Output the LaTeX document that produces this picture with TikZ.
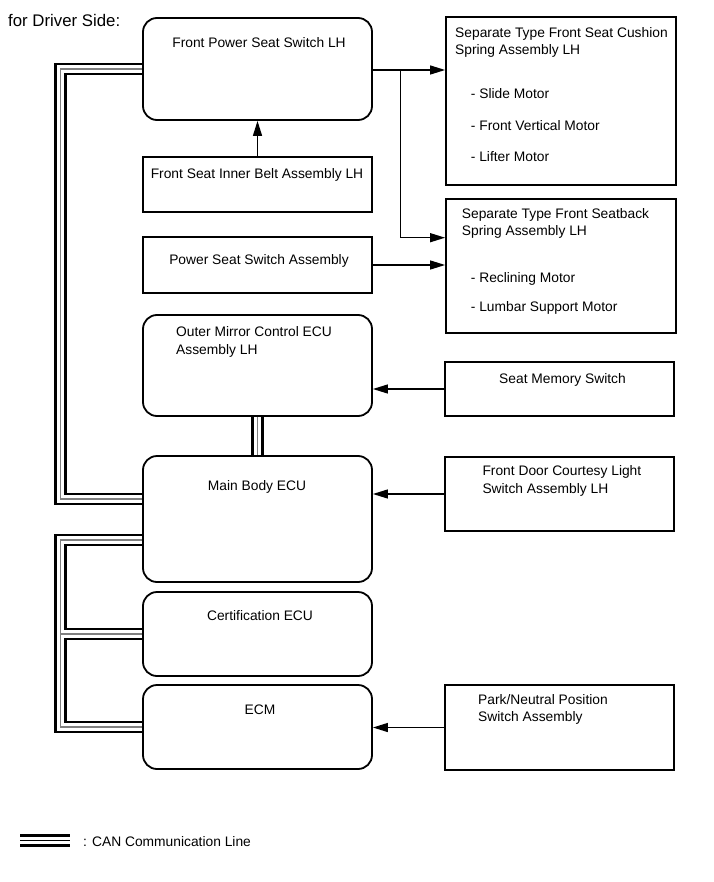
\documentclass[tikz,border=0pt]{standalone}
\usepackage{fontspec}
\setmainfont{Liberation Sans}
\usetikzlibrary{arrows.meta,backgrounds}
\newcommand\canroutes[1]{%
  \draw[#1] (fpss.west) -- (t1) -- (t2) -- (t2 -| mbecu.west);
  \draw[#1] (b1 -| mbecu.west) -- (b1) -- (b2) -- (ecm.west);
  \draw[#1] (b1 |- cert.west) -- (cert.west);
  \draw[#1] (mirror.south) -- (mbecu.north);}
\begin{document}
\begin{tikzpicture}[x=1pt,y=-1pt,
  box/.style={draw, line width=1.8pt, fill=white, inner sep=0pt},
  rbox/.style={box, rounded corners=14pt},
  lbl/.style={inner sep=0pt, font=\fontsize{13.8pt}{17.4pt}\selectfont},
  arr/.style={line width=1.3pt, -{Triangle[length=15pt,width=9pt]}},
  canblack/.style={line width=12.7pt, black},
  canwhite/.style={line width=7.3pt, white},
  cangray/.style={line width=1.3pt, black!50},
  legline/.style={line width=2.5pt, black}]
\useasboundingbox (0,0) rectangle (713,882);
% boxes
\node[rbox, minimum width=229pt, minimum height=102pt] (fpss) at (257.5,69) {};
\node[box, minimum width=229pt, minimum height=55pt] (belt) at (257.5,184.5) {};
\node[box, minimum width=229pt, minimum height=56pt] (pssa) at (257.5,265) {};
\node[rbox, minimum width=229pt, minimum height=101pt] (mirror) at (257.5,365.5) {};
\node[rbox, minimum width=229pt, minimum height=126pt] (mbecu) at (257.5,519) {};
\node[rbox, minimum width=229pt, minimum height=84pt] (cert) at (257.5,634) {};
\node[rbox, minimum width=229pt, minimum height=84pt] (ecm) at (257.5,727) {};
\node[box, minimum width=230pt, minimum height=168pt] (cushion) at (561,101) {};
\node[box, minimum width=230pt, minimum height=134pt] (seatback) at (561,266) {};
\node[box, minimum width=229pt, minimum height=54pt] (memory) at (559.5,389) {};
\node[box, minimum width=229pt, minimum height=74pt] (courtesy) at (559.5,494) {};
\node[box, minimum width=229pt, minimum height=85pt] (park) at (559.5,727.5) {};
% texts
\node[lbl, anchor=base] (tfpss) at (259,47.7) {Front Power Seat Switch LH};
\node[lbl, anchor=base] (tbelt) at (257,178.5) {Front Seat Inner Belt Assembly LH};
\node[lbl, anchor=base] (tpssa) at (259,265) {Power Seat Switch Assembly};
\node[lbl, anchor=base west] (tmir1) at (176,336.6) {Outer Mirror Control ECU};
\node[lbl, anchor=base west] (tmir2) at (176,354) {Assembly LH};
\node[lbl, anchor=base] (tmb) at (257,490) {Main Body ECU};
\node[lbl, anchor=base] (tcert) at (260,620) {Certification ECU};
\node[lbl, anchor=base] (tecm) at (260,714) {ECM};
\node[lbl, anchor=base west] (tcu1) at (455,37.2) {Separate Type Front Seat Cushion};
\node[lbl, anchor=base west] (tcu2) at (455,54.5) {Spring Assembly LH};
\node[lbl, anchor=base west] (tcu3) at (470.7,99) {- Slide Motor};
\node[lbl, anchor=base west] (tcu4) at (470.7,130.3) {- Front Vertical Motor};
\node[lbl, anchor=base west] (tcu5) at (470.7,161.6) {- Lifter Motor};
\node[lbl, anchor=base west] (tsb1) at (461.7,218.2) {Separate Type Front Seatback};
\node[lbl, anchor=base west] (tsb2) at (461.7,235.5) {Spring Assembly LH};
\node[lbl, anchor=base west] (tsb3) at (470.7,282.6) {- Reclining Motor};
\node[lbl, anchor=base west] (tsb4) at (470.7,311) {- Lumbar Support Motor};
\node[lbl, anchor=base] (tmem) at (562.5,383.2) {Seat Memory Switch};
\node[lbl, anchor=base west] (tco1) at (482.3,475.6) {Front Door Courtesy Light};
\node[lbl, anchor=base west] (tco2) at (482.3,493) {Switch Assembly LH};
\node[lbl, anchor=base west] (tpk1) at (478,704) {Park/Neutral Position};
\node[lbl, anchor=base west] (tpk2) at (478,721) {Switch Assembly};
\node[lbl, anchor=base west, font=\fontsize{16.8pt}{20pt}\selectfont] (tside) at (8,27) {for Driver Side:};
\node[lbl, anchor=base west] (tleg) at (83,846.6) {: CAN Communication Line};
% arrows
\coordinate (br) at (400.7,70);
\coordinate (sbin) at (400.7,237.7);
\draw[arr] (belt.north) -- (fpss.south);
\draw[arr] (br -| fpss.east) -- (br -| cushion.west);
\draw[arr] (br) -- (sbin) -- (sbin -| seatback.west);
\draw[arr] (pssa.east) -- (pssa.east -| seatback.west);
\draw[arr] (memory.west) -- (memory.west -| mirror.east);
\draw[arr] (courtesy.west) -- (courtesy.west -| mbecu.east);
\draw[arr] (park.west) -- (park.west -| ecm.east);
% CAN lines
\coordinate (t1) at (60.5,69);
\coordinate (t2) at (60.5,499);
\coordinate (b1) at (60.5,540);
\coordinate (b2) at (60.5,727);
\begin{pgfonlayer}{background}
\canroutes{canblack}
\canroutes{canwhite}
\canroutes{cangray}
\end{pgfonlayer}
% legend
\coordinate (l1a) at (20,835.3); \coordinate (l1b) at (70,835.3);
\coordinate (l2a) at (20,840.5); \coordinate (l2b) at (70,840.5);
\coordinate (l3a) at (20,845.7); \coordinate (l3b) at (70,845.7);
\draw[legline] (l1a) -- (l1b);
\draw[legline, line width=1.8pt] (l2a) -- (l2b);
\draw[legline] (l3a) -- (l3b);
\end{tikzpicture}
\end{document}
